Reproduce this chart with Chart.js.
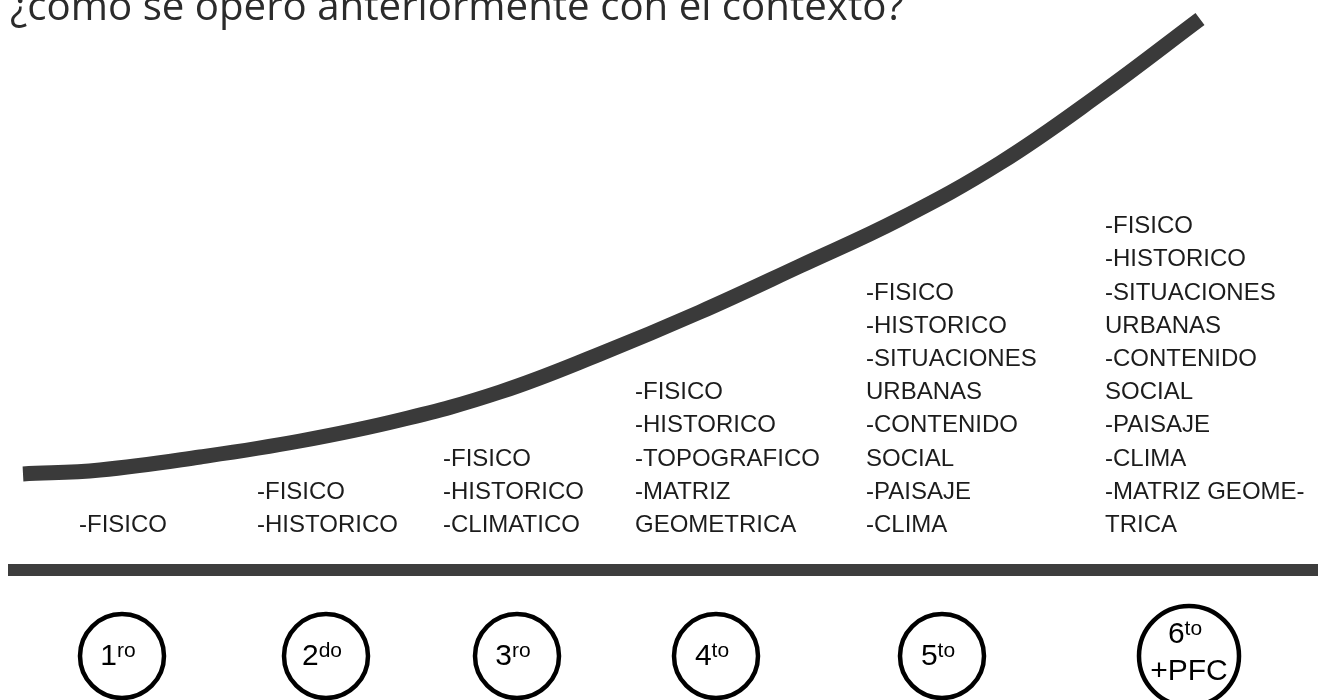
<!DOCTYPE html>
<html>
<head>
<meta charset="utf-8">
<script src="https://cdn.jsdelivr.net/npm/chart.js@4.4.1/dist/chart.umd.min.js"></script>
<style>
  html, body { margin: 0; padding: 0; background: #fff; }
  #wrap { width: 1318px; height: 700px; position: relative; }
</style>
</head>
<body>
<div id="wrap"><canvas id="chart"></canvas></div>
<script>
const titleText = '¿cómo se operó anteriormente con el contexto?';

// curva creciente (x, altura desde abajo)
const curveX = [23, 100, 200, 300, 400, 500, 600, 700, 800, 900, 1000, 1100, 1200];
const curveY = [226, 230, 243, 259, 280, 308, 346, 388, 434, 481, 537, 606, 681];

// linea base
const baseX = [8, 1318];
const baseY = [130, 130];

// años
const yearX = [122, 326, 517, 716, 942, 1189];
const yearY = [44, 44, 44, 44, 44, 44];
const yearRadius = [42, 42, 42, 42, 42, 50];
const yearNum = ['1', '2', '3', '4', '5', '6'];
const yearSup = ['ro', 'do', 'ro', 'to', 'to', 'to'];
const yearExtra = ['', '', '', '', '', '+PFC'];

// contenidos por año
const columnX = [79, 257, 443, 635, 866, 1105];
const columnBaseY = 168;
const col1 = ['-FISICO'];
const col2 = ['-FISICO', '-HISTORICO'];
const col3 = ['-FISICO', '-HISTORICO', '-CLIMATICO'];
const col4 = ['-FISICO', '-HISTORICO', '-TOPOGRAFICO', '-MATRIZ', 'GEOMETRICA'];
const col5 = ['-FISICO', '-HISTORICO', '-SITUACIONES', 'URBANAS', '-CONTENIDO', 'SOCIAL', '-PAISAJE', '-CLIMA'];
const col6 = ['-FISICO', '-HISTORICO', '-SITUACIONES', 'URBANAS', '-CONTENIDO', 'SOCIAL', '-PAISAJE', '-CLIMA', '-MATRIZ GEOME-', 'TRICA'];
const columns = [col1, col2, col3, col4, col5, col6];

const labelsPlugin = {
  id: 'labels',
  afterDatasetsDraw(chart) {
    const ctx = chart.ctx;
    const sx = chart.scales.x;
    const sy = chart.scales.y;
    ctx.save();

    // titulo (cortado arriba como en la imagen)
    ctx.fillStyle = '#2b2b2b';
    ctx.textBaseline = 'alphabetic';
    ctx.textAlign = 'left';
    ctx.font = '40px "Open Sans"';
    const w = ctx.measureText(titleText).width;
    const size = 40 * 894 / w;
    ctx.font = size + 'px "Open Sans"';
    ctx.fillText(titleText, sx.getPixelForValue(10), sy.getPixelForValue(680));

    // columnas de texto
    ctx.fillStyle = '#1c1c1c';
    ctx.font = '24px "Liberation Sans", Arial, sans-serif';
    const lineH = 33.2;
    columns.forEach((lines, i) => {
      const x = sx.getPixelForValue(columnX[i]);
      const base = sy.getPixelForValue(columnBaseY);
      lines.forEach((t, j) => {
        ctx.fillText(t, x, base - (lines.length - 1 - j) * lineH);
      });
    });

    // etiquetas dentro de los círculos
    ctx.fillStyle = '#000';
    yearNum.forEach((n, i) => {
      const cx = sx.getPixelForValue(yearX[i]) - 4;
      const cy = sy.getPixelForValue(yearY[i]);
      ctx.font = '30px "Liberation Sans", Arial, sans-serif';
      const wn = ctx.measureText(n).width;
      ctx.font = '21px "Liberation Sans", Arial, sans-serif';
      const ws = ctx.measureText(yearSup[i]).width;
      const hasExtra = yearExtra[i] !== '';
      const base = hasExtra ? cy - 13 : cy + 9;
      const start = cx - (wn + ws) / 2;
      ctx.textAlign = 'left';
      ctx.font = '30px "Liberation Sans", Arial, sans-serif';
      ctx.fillText(n, start, base);
      ctx.font = '21px "Liberation Sans", Arial, sans-serif';
      ctx.fillText(yearSup[i], start + wn, base - 8);
      if (hasExtra) {
        ctx.font = '30px "Liberation Sans", Arial, sans-serif';
        ctx.textAlign = 'center';
        ctx.fillText(yearExtra[i], cx + 4, cy + 24);
      }
    });
    ctx.restore();
  }
};

new Chart(document.getElementById('chart'), {
  type: 'scatter',
  data: {
    datasets: [
      {
        data: baseX.map((x, i) => ({ x, y: baseY[i] })),
        showLine: true,
        borderColor: '#3d3d3d',
        borderWidth: 12,
        borderCapStyle: 'butt',
        pointRadius: 0,
      },
      {
        data: curveX.map((x, i) => ({ x, y: curveY[i] })),
        showLine: true,
        borderColor: '#3a3a3a',
        borderWidth: 15,
        borderCapStyle: 'butt',
        tension: 0.4,
        pointRadius: 0,
      },
      {
        data: yearX.map((x, i) => ({ x, y: yearY[i] })),
        showLine: false,
        pointStyle: 'circle',
        pointRadius: yearRadius,
        pointBorderWidth: 4.5,
        pointBorderColor: '#000',
        pointBackgroundColor: 'rgba(255,255,255,0)',
      },
    ],
  },
  options: {
    responsive: true,
    maintainAspectRatio: false,
    animation: false,
    events: [],
    layout: { padding: 0, autoPadding: false },
    scales: {
      x: { type: 'linear', min: 0, max: 1318, display: false },
      y: { type: 'linear', min: 0, max: 700, display: false },
    },
    plugins: {
      legend: { display: false },
      tooltip: { enabled: false },
    },
  },
  plugins: [labelsPlugin],
});
</script>
</body>
</html>
